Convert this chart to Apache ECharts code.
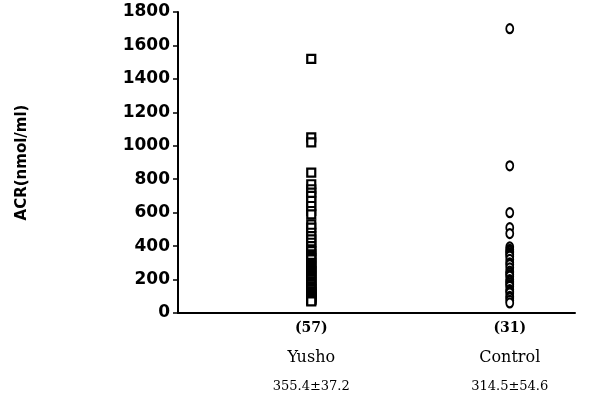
<!DOCTYPE html>
<html><head><meta charset="utf-8">
<script src="https://cdn.jsdelivr.net/npm/echarts@6/dist/echarts.min.js"></script>
<style>html,body{margin:0;padding:0;background:#fff}#c{width:594px;height:412px}</style>
</head><body><div id="c"></div>
<script>
var categories = ['Yusho', 'Control'];
var counts = ['(57)', '(31)'];
var stats = ['355.4±37.2', '314.5±54.6'];
var yTicks = [0, 200, 400, 600, 800, 1000, 1200, 1400, 1600, 1800];
var yushoValues = [1520, 1050, 1020, 840,
  770, 740, 720, 700, 670, 640, 610, 590,
  530, 510, 480, 460, 440, 420, 400,
  380, 370, 350, 340, 330, 320, 300, 290, 280, 270,
  260, 250, 240, 230, 220, 210, 200, 190, 180, 170,
  160, 150, 145, 140, 130, 125, 120, 115, 110, 105,
  100, 95, 90, 85, 80, 78, 75, 70];
var controlValues = [1700, 880, 600, 510, 475,
  395, 380, 370, 360, 350, 340, 320, 300, 290, 270,
  250, 240, 230, 220, 200, 190, 180, 170, 160, 140,
  130, 120, 100, 90, 75, 60];

var chart = echarts.init(document.getElementById('c'), null, {renderer: 'canvas'});
var gridTop = 12, gridBottom = 99;
chart.setOption({
  backgroundColor: '#fff',
  animation: false,
  grid: [
    {left: 178, right: 19, top: gridTop, bottom: gridBottom, outerBoundsMode: 'none', containLabel: false},
    {left: 212, width: 397, top: gridTop, bottom: gridBottom, outerBoundsMode: 'none', containLabel: false}
  ],
  xAxis: [
    {gridIndex: 0, type: 'value', min: 0, max: 1, axisLine: {show: true, lineStyle: {color: '#000', width: 2}},
     axisTick: {show: false}, axisLabel: {show: false}, splitLine: {show: false}},
    {gridIndex: 1, type: 'category', data: categories, boundaryGap: true,
     axisLine: {show: false}, axisTick: {show: false}, splitLine: {show: false},
     axisLabel: {
       margin: 1, interval: 0,
       formatter: function (v, i) { return '{a|' + counts[i] + '}\n{b|' + v + '}\n{c|' + stats[i] + '}'; },
       rich: {
         a: {fontFamily: 'DejaVu Serif', fontSize: 14, fontWeight: 'bold', color: '#000', lineHeight: 29},
         b: {fontFamily: 'DejaVu Serif', fontSize: 16, color: '#000', lineHeight: 29},
         c: {fontFamily: 'DejaVu Serif', fontSize: 13, color: '#000', lineHeight: 29}
       }
     }}
  ],
  yAxis: [
    {gridIndex: 0, type: 'value', min: 0, max: 1800, interval: 200,
     name: 'ACR(nmol/ml)', nameLocation: 'middle', nameGap: 148, nameRotate: 90,
     nameTextStyle: {fontFamily: 'DejaVu Sans', fontWeight: 'bold', fontSize: 15, color: '#000'},
     axisLine: {show: true, lineStyle: {color: '#000', width: 2}},
     axisTick: {show: true, inside: false, length: 5, lineStyle: {color: '#000', width: 1.5}},
     axisLabel: {margin: 8, fontFamily: 'DejaVu Sans', fontWeight: 'bold', fontSize: 17, color: '#000',
       formatter: function (v) { return yTicks.indexOf(v) >= 0 ? String(v) : ''; }},
     splitLine: {show: false}},
    {gridIndex: 1, type: 'value', min: 0, max: 1800, show: false}
  ],
  series: [
    {type: 'scatter', xAxisIndex: 1, yAxisIndex: 1, symbol: 'rect', symbolSize: 8,
     itemStyle: {color: '#fff', borderColor: '#000', borderWidth: 2.2, opacity: 1},
     data: yushoValues.map(function (v) { return [categories[0], v]; })},
    {type: 'scatter', xAxisIndex: 1, yAxisIndex: 1, symbol: 'circle', symbolSize: [7, 9],
     itemStyle: {color: '#fff', borderColor: '#000', borderWidth: 2, opacity: 1},
     data: controlValues.map(function (v) { return [categories[1], v]; })}
  ]
});
</script></body></html>
